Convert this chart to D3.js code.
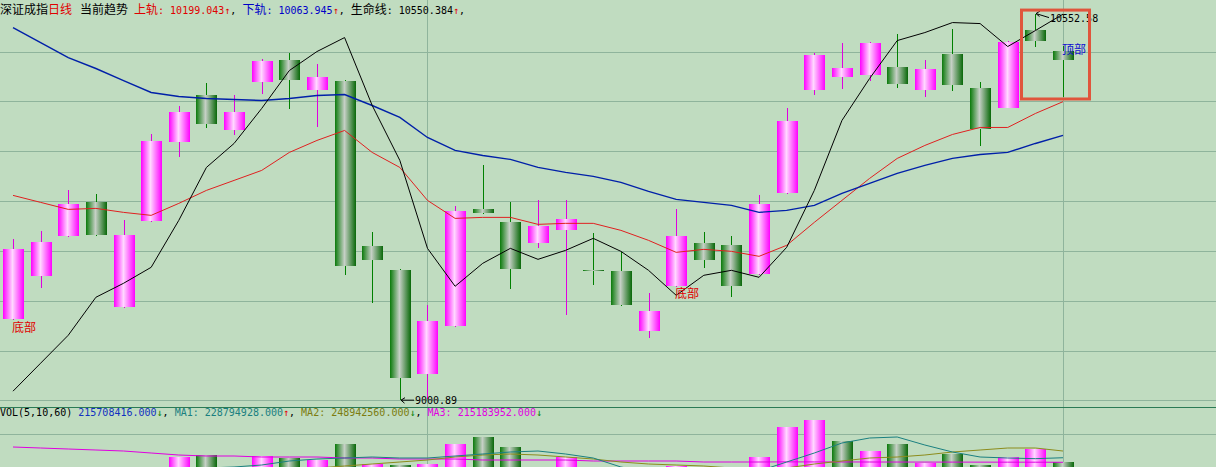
<!DOCTYPE html>
<html>
<head>
<meta charset="utf-8">
<script src="https://cdn.jsdelivr.net/npm/d3@7/dist/d3.min.js"></script>
<style>
body { margin: 0; background: #c0dcc0; }
svg { display: block; }
</style>
</head>
<body>
<svg id="chart" width="1216" height="467"></svg>
<script>
// 日K線數據（深證成指）
const open = [9325.7, 9498.1, 9658.5, 9794.8, 9373.8, 9718.6, 10035.4, 10223.8, 10083.5, 10279.9,
    10368.1, 10247.9, 10283.9, 9618.4, 9522.1, 9105.1, 9297.6, 9766.7, 9714.6, 9630.4,
    9682.5, 9522.1, 9519.0, 9277.6, 9458.0, 9630.4, 9622.4, 9506.1, 9830.9, 10247.9,
    10300.0, 10308.0, 10340.1, 10247.9, 10392.2, 10251.9, 10175.7, 10488.4, 10404.2];
const high = [9646.4, 9678.5, 9842.9, 9826.9, 9722.6, 10067.4, 10179.7, 10275.9, 10223.8, 10372.2,
    10396.2, 10352.1, 10288.0, 9674.5, 9526.1, 9381.8, 9778.7, 9943.1, 9794.8, 9802.8,
    9802.8, 9670.5, 9594.3, 9429.9, 9766.7, 9674.5, 9658.5, 9822.9, 10171.7, 10396.2,
    10436.3, 10440.3, 10472.4, 10368.1, 10492.4, 10279.9, 10444.3, 10552.58, 10424.3];
const low = [9321.7, 9450.0, 9656.0, 9660.0, 9371.0, 9716.0, 9975.2, 10091.5, 10063.4, 10231.8,
    10167.7, 10095.5, 9502.1, 9389.8, 9000.89, 9004.9, 9295.0, 9749.0, 9446.0, 9610.3,
    9341.7, 9462.0, 9380.0, 9249.5, 9456.0, 9530.2, 9413.9, 9504.0, 9829.0, 10227.8,
    10247.9, 10283.9, 10255.9, 10215.8, 10243.8, 10019.3, 10174.0, 10420.3, 10215.8];
const close = [9606.3, 9634.4, 9786.8, 9662.5, 9662.5, 10039.4, 10155.6, 10107.5, 10155.6, 10364.1,
    10288.0, 10300.0, 9542.2, 9562.2, 9089.1, 9317.6, 9758.7, 9750.7, 9526.1, 9698.6,
    9726.6, 9520.0, 9381.8, 9357.8, 9658.5, 9562.2, 9458.0, 9786.8, 10119.6, 10388.2,
    10336.1, 10436.3, 10271.9, 10332.1, 10267.9, 10087.5, 10440.3, 10444.3, 10368.1];

// 趨勢線：上軌（紅）、下軌（藍）、生命線（黑）
const upper = [9822.9, 9794.8, 9766.7, 9770.7, 9754.7, 9742.7, 9790.8, 9842.9, 9883.0, 9923.1,
    9995.3, 10043.4, 10083.5, 9995.3, 9935.1, 9802.8, 9730.6, 9734.6, 9734.6, 9706.6,
    9710.6, 9710.6, 9682.5, 9642.4, 9594.3, 9606.3, 9598.3, 9578.3, 9622.4, 9714.6,
    9802.8, 9891.0, 9971.2, 10023.3, 10067.4, 10095.5, 10095.5, 10151.6, 10199.043];
const lower = [10496.4, 10436.3, 10376.2, 10332.1, 10283.9, 10235.8, 10219.8, 10211.8, 10207.8, 10203.8,
    10211.8, 10223.8, 10227.8, 10183.7, 10135.6, 10055.4, 10003.3, 9983.2, 9967.2, 9935.1,
    9915.1, 9899.0, 9875.0, 9838.9, 9806.8, 9794.8, 9782.8, 9754.7, 9762.7, 9782.8,
    9830.9, 9871.0, 9911.1, 9943.1, 9971.2, 9987.2, 9995.3, 10031.3, 10063.945];
const life = [9037.0, 9149.3, 9261.5, 9413.9, 9470.0, 9534.2, 9722.6, 9935.1, 10031.3, 10171.7,
    10324.0, 10400.2, 10456.3, 10183.7, 9963.2, 9610.3, 9458.0, 9550.2, 9610.3, 9566.2,
    9602.3, 9650.4, 9598.3, 9522.1, 9421.9, 9502.1, 9522.1, 9494.1, 9614.4, 9842.9,
    10123.6, 10292.0, 10444.3, 10476.4, 10516.5, 10512.5, 10420.3, 10484.4, 10550.384];

// 成交量（百萬）與均量線
const vol = [150, 160, 175, 170, 180, 190, 231, 237, 185, 234,
    228, 222, 270, 210, 207, 210, 270, 291, 261, 190,
    231, 180, 185, 170, 204, 175, 190, 231, 321, 342,
    279, 249, 270, 213, 240, 207, 231, 255, 215.708416];
const volMa1 = [162, 162, 168, 174, 180, 186, 192, 198, 201, 207,
    219, 225, 228, 231, 228, 228, 234, 240, 246, 249,
    240, 228, 201, 186, 180, 180, 186, 189, 216, 243,
    273, 288, 291, 267, 246, 231, 228, 226, 228.794928];
const volMa2 = [165, 168, 171, 174, 177, 180, 183, 186, 189, 192,
    195, 198, 204, 210, 216, 222, 231, 237, 240, 237,
    231, 225, 216, 210, 207, 204, 198, 195, 198, 210,
    219, 228, 231, 237, 246, 252, 258, 258, 248.94256];
const volMa3 = [261, 258, 255, 252, 249, 243, 237, 234, 234, 231,
    231, 231, 228, 228, 225, 225, 225, 222, 222, 222,
    222, 219, 219, 219, 219, 216, 216, 216, 216.4, 216.2,
    216.1, 216.0, 215.9, 215.8, 215.7, 215.6, 215.5, 215.4, 215.183952];

// 價格網格與成交量網格
const priceGrid = [9000, 9200, 9400, 9600, 9800, 10000, 10200, 10400];
const volGrid = [300];
const gridDays = [15, 38];

const W = 1216, H = 467;
const cjkFont = '"Noto Sans CJK SC", sans-serif';
const monoFont = '"DejaVu Sans Mono", monospace';
const RED = '#e00000', BLUE = '#0000c8', GREEN = '#008000';

const svg = d3.select('#chart');
svg.append('rect').attr('width', W).attr('height', H).attr('fill', '#c0dcc0');

// 漸層
const defs = svg.append('defs');
function addGrad(id, edgeL, mid, edgeR) {
    const g = defs.append('linearGradient').attr('id', id).attr('x1', 0).attr('x2', 1).attr('y1', 0).attr('y2', 0);
    g.append('stop').attr('offset', '0%').attr('stop-color', edgeL);
    g.append('stop').attr('offset', '45%').attr('stop-color', mid);
    g.append('stop').attr('offset', '100%').attr('stop-color', edgeR);
}
addGrad('up', '#ff00ff', '#ffd8ff', '#ff00ff');
addGrad('down', '#0a7a0a', '#c6d0c6', '#086808');

// 比例尺
const idx = d3.range(close.length);
const x = d3.scaleLinear().domain([0, idx.length - 1]).range([13, 1063]);
const y = d3.scaleLinear().domain([9000, 10400]).range([400.4, 51.6]);
const yv = d3.scaleLinear().domain([0, 300]).range([534, 434]);
const cx = i => Math.round(x(i));
const bodyW = 21;

// 網格
const grid = svg.append('g').attr('shape-rendering', 'crispEdges');
grid.selectAll('.hp').data(priceGrid).enter().append('line')
    .attr('x1', 0).attr('x2', W)
    .attr('y1', d => Math.round(y(d)) + 0.5).attr('y2', d => Math.round(y(d)) + 0.5)
    .attr('stroke', '#8fb49c');
grid.selectAll('.hv').data(volGrid).enter().append('line')
    .attr('x1', 0).attr('x2', W)
    .attr('y1', d => Math.round(yv(d)) + 0.5).attr('y2', d => Math.round(yv(d)) + 0.5)
    .attr('stroke', '#8fb49c');
grid.selectAll('.vv').data(gridDays).enter().append('line')
    .attr('x1', d => cx(d) + 0.5).attr('x2', d => cx(d) + 0.5)
    .attr('y1', 0).attr('y2', H)
    .attr('stroke', '#8fb49c');
// 分隔線
grid.append('line').attr('x1', 0).attr('x2', W).attr('y1', 407.5).attr('y2', 407.5)
    .attr('stroke', '#2b7a55').attr('stroke-width', 1.5);

// K線
const isUp = i => close[i] > open[i];
const candles = svg.append('g');
candles.selectAll('.wick').data(idx).enter().append('line')
    .attr('x1', i => cx(i) + 0.5).attr('x2', i => cx(i) + 0.5)
    .attr('y1', i => y(high[i])).attr('y2', i => y(low[i]))
    .attr('stroke', i => isUp(i) ? '#e000e0' : GREEN)
    .attr('shape-rendering', 'crispEdges');
candles.selectAll('.body').data(idx).enter().append('rect')
    .attr('x', i => cx(i) - 10)
    .attr('width', bodyW)
    .attr('y', i => Math.round(y(Math.max(open[i], close[i]))))
    .attr('height', i => Math.max(1, Math.round(Math.abs(y(open[i]) - y(close[i])))))
    .attr('fill', i => isUp(i) ? 'url(#up)' : 'url(#down)');

// 趨勢線
function drawLine(data, color, width) {
    svg.append('path').datum(data)
        .attr('fill', 'none').attr('stroke', color).attr('stroke-width', width)
        .attr('d', d3.line().x((d, i) => x(i)).y(d => y(d)));
}
drawLine(upper, '#e02020', 1);
drawLine(lower, '#0020a8', 1.4);
drawLine(life, '#000000', 1);

// 成交量柱
const volUp = i => i === 0 ? isUp(i) : close[i] >= close[i - 1];
svg.append('g').selectAll('rect').data(idx).enter().append('rect')
    .attr('x', i => cx(i) - 10)
    .attr('width', bodyW)
    .attr('y', i => Math.round(yv(vol[i])))
    .attr('height', i => yv(0) - Math.round(yv(vol[i])))
    .attr('fill', i => volUp(i) ? 'url(#up)' : 'url(#down)');

function drawVolLine(data, color) {
    svg.append('path').datum(data)
        .attr('fill', 'none').attr('stroke', color).attr('stroke-width', 1)
        .attr('d', d3.line().x((d, i) => x(i)).y(d => yv(d)));
}
drawVolLine(volMa3, '#e000e0');
drawVolLine(volMa2, '#8c8c1c');
drawVolLine(volMa1, '#1a8080');

// 標註
function label(i, txt, color, yy) {
    svg.append('text').attr('x', cx(i) - 1).attr('y', yy)
        .attr('fill', color).style('font-family', cjkFont).style('font-size', '12px')
        .text(txt);
}
label(0, '底部', RED, y(low[0]) + 12);
label(24, '底部', RED, y(low[24]) + 11);
label(38, '顶部', '#1010d0', y(high[38]) + 8);

// 最高最低價標記
function extremeMark(i, val, yy, slope) {
    const px = cx(i) + 1, py = y(val);
    const ex = px + 13, ey = py + slope;
    svg.append('path')
        .attr('d', `M${px},${py}L${ex},${ey}M${px},${py}l4,-2.5M${px},${py}l3.5,3`)
        .attr('stroke', '#000').attr('fill', 'none').attr('stroke-width', 1);
    svg.append('text').attr('x', ex + 1).attr('y', yy)
        .style('font-family', monoFont).style('font-size', '10px').attr('fill', '#000')
        .text(val.toFixed(2));
}
const hiI = d3.maxIndex(high), loI = d3.minIndex(low);
extremeMark(hiI, high[hiI], y(high[hiI]) + 8, 4);
extremeMark(loI, low[loI], y(low[loI]) + 4, 0);

// 頂部方框
svg.append('rect')
    .attr('x', cx(37) - 13.5).attr('y', y(high[37]) - 3.5)
    .attr('width', cx(38) - cx(37) + 40).attr('height', y(low[38]) - y(high[37]) + 5)
    .attr('fill', 'none').attr('stroke', '#e0553c').attr('stroke-width', 3);

// 文字列
function flow(x0, yb, parts) {
    let px = x0;
    parts.forEach(p => {
        if (p.gap) { px += p.gap; return; }
        const t = svg.append('text').attr('x', px).attr('y', yb).attr('fill', p.c)
            .style('font-family', p.cjk ? cjkFont : monoFont)
            .style('font-size', p.cjk ? '12px' : '10px')
            .style('white-space', 'pre')
            .text(p.t);
        px += t.node().getComputedTextLength();
    });
}
const last = a => a[a.length - 1];
const arrow = a => last(a) >= a[a.length - 2] ? { t: '↑', c: RED } : { t: '↓', c: GREEN };

flow(0, 14, [
    { t: '深证成指', c: '#000', cjk: 1 },
    { t: '日线', c: RED, cjk: 1 },
    { gap: 8 },
    { t: '当前趋势', c: '#000', cjk: 1 },
    { gap: 6 },
    { t: '上轨', c: RED, cjk: 1 },
    { t: ': ' + last(upper).toFixed(3), c: RED },
    arrow(upper),
    { t: ', ', c: '#000' },
    { t: '下轨', c: BLUE, cjk: 1 },
    { t: ': ' + last(lower).toFixed(3), c: BLUE },
    arrow(lower),
    { t: ', ', c: '#000' },
    { t: '生命线', c: '#000', cjk: 1 },
    { t: ': ' + last(life).toFixed(3), c: '#000' },
    arrow(life),
    { t: ',', c: '#000' }
]);

flow(0, 416, [
    { t: 'VOL(5,10,60) ', c: '#000' },
    { t: (last(vol) * 1e6).toFixed(3), c: '#1030c0' },
    arrow(vol),
    { t: ', ', c: '#000' },
    { t: 'MA1: ' + (last(volMa1) * 1e6).toFixed(3), c: '#1a8080' },
    arrow(volMa1),
    { t: ', ', c: '#000' },
    { t: 'MA2: ' + (last(volMa2) * 1e6).toFixed(3), c: '#7c7c10' },
    arrow(volMa2),
    { t: ', ', c: '#000' },
    { t: 'MA3: ' + (last(volMa3) * 1e6).toFixed(3), c: '#e000e0' },
    arrow(volMa3)
]);
</script>
</body>
</html>
